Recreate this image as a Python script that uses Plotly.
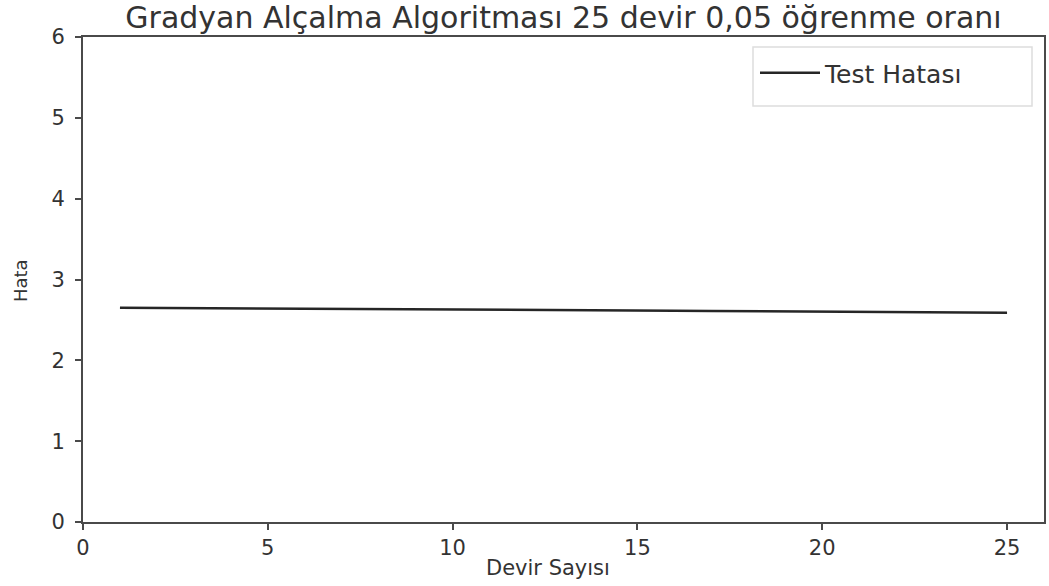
import plotly.graph_objects as go

epochs = list(range(1, 26))
test_error = [2.651, 2.649, 2.646, 2.644, 2.641, 2.638, 2.636, 2.633, 2.631, 2.628,
              2.626, 2.623, 2.621, 2.618, 2.615, 2.613, 2.610, 2.608, 2.605, 2.602,
              2.600, 2.597, 2.595, 2.592, 2.589]
series_name = "Test Hatası"
title_text = "Gradyan Alçalma Algoritması 25 devir 0,05 öğrenme oranı"
x_title = "Devir Sayısı"
y_title = "Hata"
x_ticks = [0, 5, 10, 15, 20, 25]
y_ticks = [0, 1, 2, 3, 4, 5, 6]

FONT = "DejaVu Sans"
TXT = "#333333"
AX = "#4a4a4a"

L, R, T, B = 83, 5, 37, 64
W, H = 1049, 586
pw, ph = W - L - R, H - T - B

def px_x(p):
    return (p - L) / pw

def px_y(p):
    return (H - B - p) / ph

fig = go.Figure()
fig.add_trace(go.Scatter(x=epochs, y=test_error, mode="lines", name=series_name,
                         line=dict(color="#262626", width=2.5)))

fig.update_layout(
    width=W, height=H,
    margin=dict(l=L, r=R, t=T, b=B, autoexpand=False),
    paper_bgcolor="white", plot_bgcolor="white",
    font=dict(family=FONT, color=TXT, size=21),
    title=dict(text=title_text, x=0.5, xref="paper", xanchor="center",
               y=1 - 17 / H, yref="container", yanchor="middle",
               font=dict(size=30, family=FONT, color=TXT)),
    showlegend=True,
    legend=dict(x=px_x(755), y=px_y(50), xanchor="left", yanchor="top",
                borderwidth=0, bgcolor="rgba(0,0,0,0)",
                font=dict(size=25, family=FONT, color=TXT),
                itemwidth=60),
    shapes=[dict(type="rect", xref="paper", yref="paper",
                 x0=px_x(753), x1=px_x(1032), y0=px_y(106), y1=px_y(47),
                 line=dict(color="#dddddd", width=1.5), fillcolor="white", layer="below")],
    annotations=[
        dict(text=x_title, xref="paper", yref="paper", x=px_x(548), y=px_y(568),
             xanchor="center", yanchor="middle", showarrow=False,
             font=dict(size=21, family=FONT, color=TXT)),
        dict(text=y_title, xref="paper", yref="paper", x=px_x(20), y=px_y(281),
             xanchor="center", yanchor="middle", showarrow=False, textangle=-90,
             font=dict(size=18, family=FONT, color=TXT)),
    ],
)
fig.update_xaxes(range=[0, 26], tickvals=x_ticks, ticks="outside", ticklen=6, tickwidth=2,
                 tickcolor=AX, showline=True, linecolor=AX, linewidth=2, mirror=True,
                 showgrid=False, zeroline=False, automargin=False,
                 tickfont=dict(size=21))
fig.update_yaxes(range=[0, 6], tickvals=y_ticks, ticks="outside", ticklen=6, tickwidth=2,
                 tickcolor=AX, showline=True, linecolor=AX, linewidth=2, mirror=True,
                 showgrid=False, zeroline=False, automargin=False,
                 ticklabelstandoff=6,
                 tickfont=dict(size=21))

fig.write_html("out.html", config={"displayModeBar": False},
               post_script="document.body.style.margin='0';document.body.style.padding='0';document.body.style.overflow='hidden';")
